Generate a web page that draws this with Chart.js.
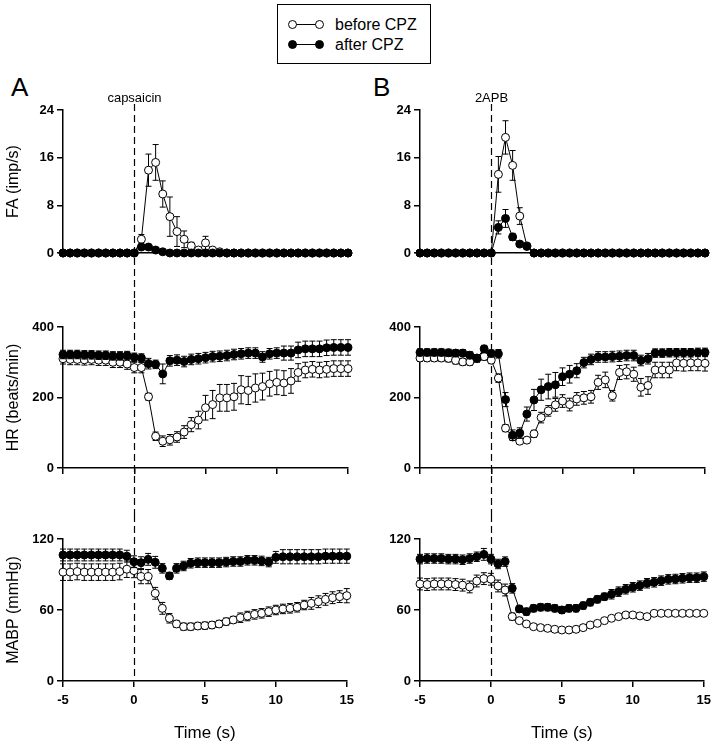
<!DOCTYPE html>
<html>
<head>
<meta charset="utf-8">
<script src="https://cdn.jsdelivr.net/npm/chart.js@4.4.0/dist/chart.umd.min.js"></script>
<style>
  body { margin: 0; background: #fff; font-family: "Liberation Sans", Arial, sans-serif; }
  #wrap { position: relative; width: 720px; height: 748px; overflow: hidden; }
  .panel { position: absolute; }
  .letter { position: absolute; font-size: 26px; color: #000; }
  #legend { position: absolute; left: 277px; top: 4px; width: 152px; height: 58px; border: 1px solid #000; }
  .row { position: absolute; left: 0; height: 20px; width: 150px; }
  .sym { position: absolute; left: 14px; top: 9px; width: 28px; height: 1px; background: #000; }
  .dot { position: absolute; top: -4px; width: 7px; height: 7px; border: 1px solid #000; border-radius: 50%; }
  .row span { position: absolute; left: 57px; top: 0; font-size: 16px; line-height: 20px; }
</style>
</head>
<body>
<div id="wrap">
  <div id="legend">
    <div class="row" style="top:10px"><div class="sym"><div class="dot" style="left:-4px;background:#fff"></div><div class="dot" style="left:23px;background:#fff"></div></div><span>before CPZ</span></div>
    <div class="row" style="top:30px"><div class="sym"><div class="dot" style="left:-4px;background:#000"></div><div class="dot" style="left:23px;background:#000"></div></div><span>after CPZ</span></div>
  </div>
  <div class="letter" style="left:11px;top:72px">A</div>
  <div class="letter" style="left:373px;top:72px">B</div>
  <div class="panel" style="left:0;top:80px"><canvas id="faA" width="360" height="220"></canvas></div>
  <div class="panel" style="left:357px;top:80px"><canvas id="faB" width="360" height="220"></canvas></div>
  <div class="panel" style="left:0;top:300px"><canvas id="hrA" width="360" height="215"></canvas></div>
  <div class="panel" style="left:357px;top:300px"><canvas id="hrB" width="360" height="215"></canvas></div>
  <div class="panel" style="left:0;top:515px"><canvas id="mapA" width="360" height="233"></canvas></div>
  <div class="panel" style="left:357px;top:515px"><canvas id="mapB" width="360" height="233"></canvas></div>
</div>
<script>
// time points, 0.5 s bins
const TIME = [-5,-4.5,-4,-3.5,-3,-2.5,-2,-1.5,-1,-0.5,0,0.5,1,1.5,2,2.5,3,3.5,4,4.5,5,5.5,6,6.5,7,7.5,8,8.5,9,9.5,10,10.5,11,11.5,12,12.5,13,13.5,14,14.5,15];
const X_TICKS = [-5, 0, 5, 10, 15];

// FA (imp/s)
const FA_A_BEFORE = [0,0,0,0,0,0,0,0,0,0,0, 2.3,13.9,15.2,9.9,6.1,3.6,2.3,1.2,0.5,1.7, 0.5,0.2,0,0,0,0,0,0,0,0, 0,0,0,0,0,0,0,0,0,0];
const FA_A_BEFORE_SE = [0,0,0,0,0,0,0,0,0,0,0, 0.8,2.7,3.0,2.2,3.3,2.5,1.4,0.6,0.3,1.1, 0.3,0,0,0,0,0,0,0,0,0, 0,0,0,0,0,0,0,0,0,0];
const FA_A_AFTER = [0,0,0,0,0,0,0,0,0,0,0, 1.0,1.0,0.5,0.2,0,0,0,0,0,0, 0,0,0,0,0,0,0,0,0,0, 0,0,0,0,0,0,0,0,0,0];
const FA_A_AFTER_SE = [0,0,0,0,0,0,0,0,0,0,0, 0.3,0.3,0.2,0,0,0,0,0,0,0, 0,0,0,0,0,0,0,0,0,0, 0,0,0,0,0,0,0,0,0,0];
const FA_B_BEFORE = [0,0,0,0,0,0,0,0,0,0,0, 13.2,19.4,14.7,6.2,1.2,0,0,0,0,0, 0,0,0,0,0,0,0,0,0,0, 0,0,0,0,0,0,0,0,0,0];
const FA_B_BEFORE_SE = [0,0,0,0,0,0,0,0,0,0,0, 3.0,2.8,2.5,1.4,0.4,0,0,0,0,0, 0,0,0,0,0,0,0,0,0,0, 0,0,0,0,0,0,0,0,0,0];
const FA_B_AFTER = [0,0,0,0,0,0,0,0,0,0,0, 4.3,5.8,2.7,1.5,1.1,0,0,0,0,0, 0,0,0,0,0,0,0,0,0,0, 0,0,0,0,0,0,0,0,0,0];
const FA_B_AFTER_SE = [0,0,0,0,0,0,0,0,0,0,0, 1.1,1.5,0.6,0.3,0.2,0,0,0,0,0, 0,0,0,0,0,0,0,0,0,0, 0,0,0,0,0,0,0,0,0,0];

// HR (beats/min)
const HR_A_BEFORE = [310,308,308,307,308,306,306,300,300,295,285, 285,202,90,76,80,88,102,123,136,171, 180,199,199,202,222,220,227,231,239,243, 241,247,271,278,280,278,280,282,282,282];
const HR_A_BEFORE_SE = [15,15,15,15,15,15,15,15,15,15,15, 15,10,12,15,15,15,18,20,25,35, 40,38,38,38,40,40,40,38,35,35, 35,35,25,22,22,22,22,22,22,22];
const HR_A_AFTER = [322,322,322,321,321,320,320,318,318,319,314, 312,296,294,267,304,306,302,308,310,313, 316,317,319,322,324,326,326,315,324,326, 326,326,335,338,338,338,341,342,342,342];
const HR_A_AFTER_SE = [12,12,12,12,12,12,12,12,12,12,12, 12,15,12,28,15,15,15,15,15,15, 15,15,15,15,15,15,15,15,15,15, 20,20,22,22,22,22,22,22,22,22];
const HR_B_BEFORE = [312,312,312,312,311,305,301,301,310,316,306, 255,113,88,76,79,97,143,162,179,190, 180,196,199,202,243,250,205,271,273,266, 229,234,278,278,278,298,297,298,298,297];
const HR_B_BEFORE_SE = [10,10,10,10,10,10,10,10,10,10,10, 12,10,8,8,8,10,15,15,18,18, 18,18,18,18,20,22,15,20,20,20, 25,25,22,22,22,22,22,22,22,22];
const HR_B_AFTER = [328,328,328,328,327,326,326,320,312,338,325, 324,194,93,99,153,193,222,231,236,259, 266,276,299,308,315,315,316,317,319,319, 305,310,326,326,327,327,327,327,328,328];
const HR_B_AFTER_SE = [10,10,10,10,10,10,10,10,10,10,10, 12,20,15,15,20,30,30,35,35,25, 25,20,15,15,15,15,15,15,15,15, 15,15,12,12,12,12,12,12,12,12];

// MABP (mmHg)
const MAP_A_BEFORE = [92,92,92.5,92,92,92,92,92,92.5,94.5,93.3, 88.2,88.2,74.1,61.4,53,48.2,45.9,45.9,46.5,46.8, 47.3,48.2,50.2,51.6,53.5,54.9,56.3,57.2,58.6,60, 60.9,61.4,62.3,64.2,65.6,67,69,70.4,71.3,72.1];
const MAP_A_BEFORE_SE = [7,7,7,7,7,7,7,7,7,7,6, 6,6,5,5,4,3,3,3,3,3, 3,3,3,3,4,4,4,4,4,4, 4,4,4,4,5,5,5,5,5,6];
const MAP_A_AFTER = [106.5,106.5,106.5,106.5,106.5,106.5,106.5,106.5,106.5,105.5,100.8, 100,102.8,100.3,95.2,88.8,95.2,97.2,99.5,100,100, 100,100,100.5,101,101,102,102,101.5,100.5,104.5, 105,105,105,105,105,105,105.5,105.5,105.5,105.5];
const MAP_A_AFTER_SE = [5,5,5,5,5,5,5,5,5,5,5, 5,5,5,4,3,4,4,4,4,4, 4,4,4,4,4,4,4,4,4,5, 6,6,6,6,6,6,6,6,6,6];
const MAP_B_BEFORE = [82,81.5,82,82,82,81.5,81,79.5,84.5,86.5,86, 80.3,76.9,54.4,51,48.2,45.9,45.1,44.5,43.7,43.1, 43.1,43.7,45.1,47.3,48.7,51,53,54.4,55.8,55.8, 55,54.4,57.2,57.2,57.2,57.2,57.2,57.2,57.2,57.2];
const MAP_B_BEFORE_SE = [5,5,5,5,5,5,5,5,5,5,5, 5,5,3,2,2,2,2,2,2,2, 2,2,2,2,2,2,2,2,2,2, 2,2,2,2,2,2,2,2,2,2];
const MAP_B_AFTER = [103,103.5,103.5,103.5,103,103,102.5,103.5,105,107,103, 98.9,100.9,78.3,60.9,58.6,61.4,62.3,62.3,61.4,60, 61.4,61.4,63.7,66.5,69,71.3,73.3,75.5,77.5,79.2, 80.6,82.6,83.4,84.8,85.9,86.2,86.8,87.3,87.3,88.2];
const MAP_B_AFTER_SE = [4,4,4,4,4,4,4,4,4,5,4, 4,4,4,3,3,3,3,3,3,3, 3,3,3,3,3,3,4,4,4,4, 4,4,4,4,4,4,4,4,4,4];

const FONT = '"Liberation Sans", Arial, sans-serif';

// error bars, drawn under each dataset's markers
const errBars = {
  id: 'errBars',
  beforeDatasetDraw(chart, args) {
    const ds = chart.data.datasets[args.index];
    if (!ds.err) return;
    const { ctx, scales: { x, y } } = chart;
    ctx.save();
    ctx.strokeStyle = '#000';
    ctx.lineWidth = 1;
    ds.data.forEach((p, i) => {
      const e = ds.err[i];
      if (!e) return;
      const px = x.getPixelForValue(p.x);
      const y1 = y.getPixelForValue(p.y + e), y2 = y.getPixelForValue(p.y - e);
      ctx.beginPath();
      ctx.moveTo(px, y1); ctx.lineTo(px, y2);
      ctx.moveTo(px - 3, y1); ctx.lineTo(px + 3, y1);
      ctx.moveTo(px - 3, y2); ctx.lineTo(px + 3, y2);
      ctx.stroke();
    });
    ctx.restore();
  }
};

// dashed stimulus line at t = 0, plus the drug name
const stimLine = {
  id: 'stimLine',
  beforeDatasetsDraw(chart, args, o) {
    const { ctx, scales: { x } } = chart;
    const px = Math.round(x.getPixelForValue(0)) + 0.5;
    const bottom = o.toAxis ? chart.chartArea.bottom : chart.height;
    ctx.save();
    ctx.strokeStyle = '#000';
    ctx.lineWidth = 1.2;
    ctx.setLineDash([7, 4]);
    ctx.beginPath();
    ctx.moveTo(px, o.top || 0);
    ctx.lineTo(px, bottom);
    ctx.stroke();
    if (o.label) {
      ctx.setLineDash([]);
      ctx.fillStyle = '#000';
      ctx.font = '13px ' + FONT;
      ctx.textAlign = 'center';
      ctx.textBaseline = 'middle';
      ctx.fillText(o.label, px, 18);
    }
    ctx.restore();
  }
};

function series(vals, se, open) {
  return {
    data: TIME.map((t, i) => ({ x: t, y: vals[i] })),
    err: se,
    borderColor: '#000',
    borderWidth: 1,
    pointRadius: 4,
    pointBorderWidth: 1,
    pointBorderColor: '#000',
    pointBackgroundColor: open ? '#fff' : '#000',
    tension: 0,
    clip: false,
    order: open ? 1 : 0
  };
}

function makePanel(id, p) {
  new Chart(document.getElementById(id), {
    type: 'line',
    data: { datasets: [series(p.before, p.beforeSe, true), series(p.after, p.afterSe, false)] },
    options: {
      responsive: false,
      animation: false,
      devicePixelRatio: 1,
      layout: { padding: { top: p.padTop, bottom: p.padBottom, left: 0, right: 12 } },
      plugins: {
        legend: { display: false },
        tooltip: { enabled: false },
        stimLine: { label: p.label, top: p.dashTop, toAxis: p.toAxis }
      },
      scales: {
        x: {
          type: 'linear', min: -5, max: 15,
          afterBuildTicks: s => { s.ticks = X_TICKS.map(v => ({ value: v })); },
          afterFit: s => { s.height = p.xH; },
          border: { display: true, color: '#000', width: 1.5 },
          grid: { display: p.xMarks, drawOnChartArea: false, drawTicks: true, tickLength: 6, color: '#000', lineWidth: 1.5 },
          ticks: { display: p.xLabels, color: '#000', padding: 6, maxRotation: 0, font: { family: FONT, size: 13, weight: 'bold' } },
          title: { display: p.xLabels, text: 'Time (s)', color: '#000', padding: { top: 4, bottom: 4 }, font: { family: FONT, size: 17, weight: 'normal' } }
        },
        y: {
          min: 0, max: p.yMax,
          ticks: { stepSize: p.step, color: '#000', padding: 3, font: { family: FONT, size: 13, weight: 'bold' } },
          afterFit: s => { s.width = 63; },
          border: { display: true, color: '#000', width: 1.5 },
          grid: { drawOnChartArea: false, drawTicks: true, tickLength: 6, color: '#000', lineWidth: 1.5 },
          title: { display: !!p.yTitle, text: p.yTitle || '', color: '#000', padding: { top: 4, bottom: 0 }, font: { family: FONT, size: 16 } }
        }
      }
    },
    plugins: [errBars, stimLine]
  });
}

const FA_BASE = { padTop: 30, padBottom: 47, xH: 0, yMax: 24, step: 8, dashTop: 24, xMarks: false, xLabels: false };
const HR_BASE = { padTop: 27, padBottom: 47, xH: 0, yMax: 400, step: 200, dashTop: 0, xMarks: true, xLabels: false };
const MAP_BASE = { padTop: 24, padBottom: 0, xH: 67, yMax: 120, step: 60, dashTop: 0, toAxis: true, xMarks: true, xLabels: true };

makePanel('faA', Object.assign({}, FA_BASE, { yTitle: 'FA (imp/s)', label: 'capsaicin', before: FA_A_BEFORE, beforeSe: FA_A_BEFORE_SE, after: FA_A_AFTER, afterSe: FA_A_AFTER_SE }));
makePanel('faB', Object.assign({}, FA_BASE, { label: '2APB', before: FA_B_BEFORE, beforeSe: FA_B_BEFORE_SE, after: FA_B_AFTER, afterSe: FA_B_AFTER_SE }));
makePanel('hrA', Object.assign({}, HR_BASE, { yTitle: 'HR (beats/min)', before: HR_A_BEFORE, beforeSe: HR_A_BEFORE_SE, after: HR_A_AFTER, afterSe: HR_A_AFTER_SE }));
makePanel('hrB', Object.assign({}, HR_BASE, { before: HR_B_BEFORE, beforeSe: HR_B_BEFORE_SE, after: HR_B_AFTER, afterSe: HR_B_AFTER_SE }));
makePanel('mapA', Object.assign({}, MAP_BASE, { yTitle: 'MABP (mmHg)', before: MAP_A_BEFORE, beforeSe: MAP_A_BEFORE_SE, after: MAP_A_AFTER, afterSe: MAP_A_AFTER_SE }));
makePanel('mapB', Object.assign({}, MAP_BASE, { before: MAP_B_BEFORE, beforeSe: MAP_B_BEFORE_SE, after: MAP_B_AFTER, afterSe: MAP_B_AFTER_SE }));
</script>
</body>
</html>
